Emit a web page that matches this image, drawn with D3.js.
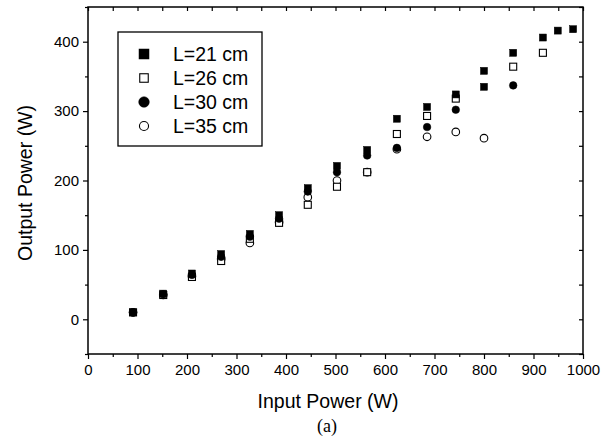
<!DOCTYPE html>
<html>
<head>
<meta charset="utf-8">
<script src="https://cdn.jsdelivr.net/npm/d3@7"></script>
<style>
  body { margin: 0; background: #fff; }
  svg { font-family: "Liberation Sans", Arial, sans-serif; }
</style>
</head>
<body>
<svg width="615" height="443"></svg>
<script>
// data: input power (W) -> output power (W)
var x21 = [91, 152, 210, 269, 327, 386, 444, 503, 564, 624, 685, 743, 800, 800, 859, 919, 949, 980];
var y21 = [10, 37, 66, 94, 123, 150, 189, 221, 244, 289, 306, 324, 358, 335, 384, 406, 416, 418];
var x26 = [91, 152, 210, 269, 327, 386, 444, 503, 564, 624, 685, 743, 859, 919];
var y26 = [10, 35, 61, 84, 116, 139, 165, 191, 212, 267, 293, 318, 364, 384];
var x30 = [91, 152, 210, 269, 327, 386, 444, 503, 564, 624, 685, 743, 859];
var y30 = [10, 36, 64, 90, 119, 145, 184, 212, 236, 247, 277, 302, 337];
var x35 = [91, 152, 210, 269, 327, 386, 444, 503, 564, 624, 685, 743, 800];
var y35 = [10, 35, 62, 87, 110, 140, 176, 200, 212, 245, 263, 270, 261];

var labels = ["L=21 cm", "L=26 cm", "L=30 cm", "L=35 cm"];
var xTicks = [0, 100, 200, 300, 400, 500, 600, 700, 800, 900, 1000];
var yTicks = [0, 100, 200, 300, 400];

function zip(xs, ys) { return xs.map(function(v, i) { return {x: v, y: ys[i]}; }); }

var series = [
  {name: labels[0], shape: "square", filled: true,  pts: zip(x21, y21)},
  {name: labels[1], shape: "square", filled: false, pts: zip(x26, y26)},
  {name: labels[2], shape: "circle", filled: true,  pts: zip(x30, y30)},
  {name: labels[3], shape: "circle", filled: false, pts: zip(x35, y35)}
];

var svg = d3.select("svg"),
    margin = {top: 7, right: 32, bottom: 89, left: 88},
    width = 583 - margin.left,
    height = 354 - margin.top;

var x = d3.scaleLinear().domain([0, 1000]).range([0, width]),
    y = d3.scaleLinear().domain([-50, 450]).range([height, 0]);

var g = svg.append("g")
    .attr("transform", "translate(" + margin.left + "," + margin.top + ")");

// axes with outward major ticks
var minorX = d3.range(50, 1000, 100),
    minorY = d3.range(-50, 451, 100);

var xAxis = g.append("g")
    .attr("transform", "translate(0," + height + ")")
    .call(d3.axisBottom(x).tickValues(xTicks).tickFormat(d3.format("d")).tickSize(5).tickPadding(5));
xAxis.selectAll("text").style("font-size", "15px").attr("fill", "#000");
g.append("g").attr("transform", "translate(0," + height + ")")
  .call(d3.axisBottom(x).tickValues(minorX).tickSize(3).tickFormat(""));

var yAxis = g.append("g")
    .call(d3.axisLeft(y).tickValues(yTicks).tickSize(5).tickPadding(4));
yAxis.selectAll("text").style("font-size", "15px").attr("fill", "#000");
g.append("g").call(d3.axisLeft(y).tickValues(minorY).tickSize(3).tickFormat(""));

// top and right: inward ticks
g.append("g")
  .call(d3.axisBottom(x).tickValues(d3.range(0, 1001, 50)).tickSize(4).tickFormat(""));
g.append("g").attr("transform", "translate(" + width + ",0)")
  .call(d3.axisLeft(y).tickValues(d3.range(-50, 451, 50)).tickSize(4).tickFormat(""));

g.selectAll(".domain").remove();
g.selectAll(".tick line").attr("stroke", "#000").attr("stroke-width", 1.2);

g.append("rect")
    .attr("width", width).attr("height", height)
    .attr("fill", "none").attr("stroke", "#000").attr("stroke-width", 1.5);

// markers
function drawMarker(sel, s, size) {
  if (s.shape === "square") {
    sel.append("rect")
      .attr("x", -size / 2).attr("y", -size / 2)
      .attr("width", size).attr("height", size);
  } else {
    sel.append("circle").attr("r", size / 2 + 0.3);
  }
  sel.selectAll("rect,circle")
    .attr("fill", s.filled ? "#000" : "#fff")
    .attr("stroke", "#000")
    .attr("stroke-width", s.filled ? 0.5 : 1.1);
}

// draw open ones first so filled sit on top like in the scan
[3, 1, 2, 0].forEach(function(k) {
  var s = series[k];
  g.append("g").selectAll("g")
    .data(s.pts)
    .enter().append("g")
    .attr("transform", function(d) { return "translate(" + x(d.x) + "," + y(d.y) + ")"; })
    .each(function() { drawMarker(d3.select(this), s, 7); });
});

// legend
var legend = svg.append("g");
legend.append("rect")
    .attr("x", 118).attr("y", 32).attr("width", 144).attr("height", 114)
    .attr("fill", "#fff").attr("stroke", "#000").attr("stroke-width", 1.3);

series.forEach(function(s, i) {
  var row = legend.append("g").attr("transform", "translate(0," + (54 + i * 24) + ")");
  var m = row.append("g").attr("transform", "translate(144,0)");
  drawMarker(m, s, s.filled ? 10 : 8.5);
  row.append("text")
    .attr("x", 173).attr("dy", "0.35em")
    .style("font-size", "19.5px")
    .text(s.name);
});

// axis titles
svg.append("text")
    .attr("x", 328).attr("y", 408)
    .attr("text-anchor", "middle")
    .style("font-size", "19.5px")
    .text("Input Power (W)");

svg.append("text")
    .attr("transform", "translate(32,183) rotate(-90)")
    .attr("text-anchor", "middle")
    .style("font-size", "19.5px")
    .text("Output Power (W)");

svg.append("text")
    .attr("x", 327).attr("y", 432)
    .attr("text-anchor", "middle")
    .style("font-family", "'Liberation Serif', 'Times New Roman', serif")
    .style("font-size", "18px")
    .text("(a)");
</script>
</body>
</html>
